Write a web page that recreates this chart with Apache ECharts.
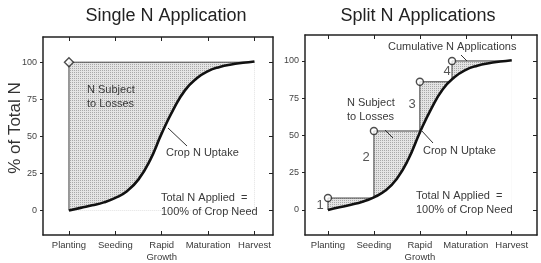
<!DOCTYPE html>
<html><head><meta charset="utf-8">
<script src="https://cdn.jsdelivr.net/npm/echarts@6/dist/echarts.min.js"></script>
<style>html,body{margin:0;padding:0;background:#fff}#c{width:541px;height:263px}</style>
</head><body><div id="c"></div>
<script>
// ---- data ----
const stages = ['Planting', 'Seeding', 'Rapid\nGrowth', 'Maturation', 'Harvest'];
const stageX = [0, 1, 2, 3, 4];
const yTicks = [0, 25, 50, 75, 100];
// crop N uptake curve (% of total N) vs growth stage position
const uptakeX = [0, 0.25, 0.5, 0.75, 1, 1.25, 1.5, 1.75, 2, 2.25, 2.5, 2.75, 3, 3.25, 3.5, 3.75, 4];
const uptakeY = [0, 1.8, 3.5, 5.5, 8.5, 13, 21, 34, 52, 68, 81, 89, 94, 96.8, 98.5, 99.6, 100.5];
// single application: all N at planting
const singleX = [0, 0, 4];
const singleY = [0, 100, 100];
const singleMarkX = [0];
const singleMarkY = [100];
// split applications: cumulative N
const splitX = [0, 0, 1, 2, 2.7, 4];
const splitY = [0, 8, 53, 86, 100, 100];
const splitMarkX = [0, 1, 2, 2.7];
const splitMarkY = [8, 53, 86, 100];
const splitLabels = ['1', '2', '3', '4'];

const pairs = (xs, ys) => xs.map((x, i) => [x, ys[i]]);

// stipple pattern
const pc = document.createElement('canvas');
pc.width = 2; pc.height = 2;
const pctx = pc.getContext('2d');
pctx.fillStyle = '#e4e4e4'; pctx.fillRect(0, 0, 2, 2);
pctx.fillStyle = '#a8a8a8'; pctx.fillRect(0, 0, 1, 1);
const stipple = { image: pc, repeat: 'repeat' };

const FONT = 'Liberation Sans, Arial, sans-serif';
const frame = { color: '#222', width: 1.5 };

function xAxes(gi, min, max) {
  const base = {
    type: 'value', gridIndex: gi, min: min, max: max, splitLine: { show: false },
    axisLine: { show: true, onZero: false, lineStyle: frame }
  };
  return [
    Object.assign({}, base, {
      position: 'bottom',
      axisTick: { show: true, inside: true, length: 4, customValues: stageX, lineStyle: { color: '#222' } },
      axisLabel: { show: true, customValues: stageX, formatter: v => stages[Math.round(v)],
        color: '#3a3a3a', fontSize: 9.5, fontFamily: FONT, margin: 4, lineHeight: 12 }
    }),
    Object.assign({}, base, {
      position: 'top',
      axisTick: { show: true, inside: true, length: 4, customValues: stageX, lineStyle: { color: '#222' } },
      axisLabel: { show: false }
    })
  ];
}
function yAxes(gi, min, max) {
  const base = {
    type: 'value', gridIndex: gi, min: min, max: max, splitLine: { show: false },
    axisLine: { show: true, onZero: false, lineStyle: frame }
  };
  return [
    Object.assign({}, base, {
      position: 'left',
      axisTick: { show: true, inside: false, length: 3, customValues: yTicks, lineStyle: { color: '#222' } },
      axisLabel: { show: true, customValues: yTicks, color: '#444', fontSize: 9,
        fontFamily: 'Liberation Sans Narrow, Arial Narrow, ' + FONT, margin: 6 }
    }),
    Object.assign({}, base, {
      position: 'right',
      axisTick: { show: true, inside: true, length: 4, customValues: yTicks, lineStyle: { color: '#222' } },
      axisLabel: { show: false }
    })
  ];
}

function panelSeries(xi, yi, stepData, markData, symbol, symbolSize) {
  return [
    { type: 'line', xAxisIndex: xi, yAxisIndex: yi, data: stepData, step: 'end',
      showSymbol: false, lineStyle: { color: '#444', width: 1 },
      areaStyle: { color: stipple, opacity: 1 }, silent: true, z: 2 },
    { type: 'line', xAxisIndex: xi, yAxisIndex: yi, data: pairs(uptakeX, uptakeY), smooth: 0.5,
      showSymbol: false, lineStyle: { color: '#111', width: 2.6 },
      areaStyle: { color: '#ffffff', opacity: 1 }, silent: true, z: 3 },
    { type: 'scatter', xAxisIndex: xi, yAxisIndex: yi, data: markData, symbol: symbol,
      symbolSize: symbolSize, itemStyle: { color: '#fff', borderColor: '#222', borderWidth: 1.4 }, z: 5 }
  ];
}

const txt = (x, y, s, size, extra) => Object.assign({
  type: 'text', left: x, top: y, z: 100,
  style: { text: s, fill: '#3a3a3a', font: (size || 11) + 'px ' + FONT, lineHeight: 14 }
}, extra || {});
const ln = (x1, y1, x2, y2) => ({ type: 'line', z: 100,
  shape: { x1: x1, y1: y1, x2: x2, y2: y2 }, style: { stroke: '#333', lineWidth: 1 } });

const chart = echarts.init(document.getElementById('c'), null, { renderer: 'canvas' });
chart.setOption({
  animation: false,
  backgroundColor: '#fff',
  title: [
    { text: 'Single N Application', left: 161, top: 2, textAlign: 'center',
      textStyle: { fontSize: 18, fontWeight: 'normal', color: '#222', fontFamily: FONT } },
    { text: 'Split N Applications', left: 413, top: 2, textAlign: 'center',
      textStyle: { fontSize: 18, fontWeight: 'normal', color: '#222', fontFamily: FONT } }
  ],
  grid: [
    { left: 43, top: 37, width: 230, height: 200 },
    { left: 305, top: 35, width: 232, height: 200 }
  ],
  xAxis: [].concat(xAxes(0, -0.56, 4.4), xAxes(1, -0.5, 4.55)),
  yAxis: [].concat(yAxes(0, -16.5, 117), yAxes(1, -16.8, 117.4)),
  series: [].concat(
    panelSeries(0, 0, pairs(singleX, singleY), pairs(singleMarkX, singleMarkY), 'diamond', 9),
    panelSeries(2, 2, pairs(splitX, splitY), pairs(splitMarkX, splitMarkY), 'circle', 7)
  ),
  graphic: [
    { type: 'text', x: 15, y: 128, rotation: Math.PI / 2, z: 100,
      style: { text: '% of Total N', fill: '#333', font: '17px ' + FONT, align: 'center', verticalAlign: 'middle' } },
    // left panel
    txt(87, 83, 'N Subject\nto Losses'),
    txt(166, 146, 'Crop N Uptake'),
    ln(168, 128, 187, 146),
    txt(161, 191, 'Total N Applied  =\n100% of Crop Need'),
    // right panel
    txt(388, 40, 'Cumulative N Applications'),
    ln(461, 55, 467, 61),
    txt(347, 96, 'N Subject\nto Losses'),
    ln(385, 130, 393, 138),
    txt(423, 144, 'Crop N Uptake'),
    ln(421, 130, 433, 143),
    txt(416, 189, 'Total N Applied  =\n100% of Crop Need'),
    txt(320, 205, splitLabels[0], 13, { style: { text: splitLabels[0], fill: '#555', font: '13px ' + FONT, align: 'center', verticalAlign: 'middle' }, left: null, top: null, x: 320, y: 205 }),
    txt(366, 157, splitLabels[1], 13, { style: { text: splitLabels[1], fill: '#555', font: '13px ' + FONT, align: 'center', verticalAlign: 'middle' }, left: null, top: null, x: 366, y: 157 }),
    txt(412, 104, splitLabels[2], 13, { style: { text: splitLabels[2], fill: '#555', font: '13px ' + FONT, align: 'center', verticalAlign: 'middle' }, left: null, top: null, x: 412, y: 104 }),
    txt(447, 71, splitLabels[3], 13, { style: { text: splitLabels[3], fill: '#555', font: '13px ' + FONT, align: 'center', verticalAlign: 'middle' }, left: null, top: null, x: 447, y: 71 })
  ]
});
</script>
</body></html>
